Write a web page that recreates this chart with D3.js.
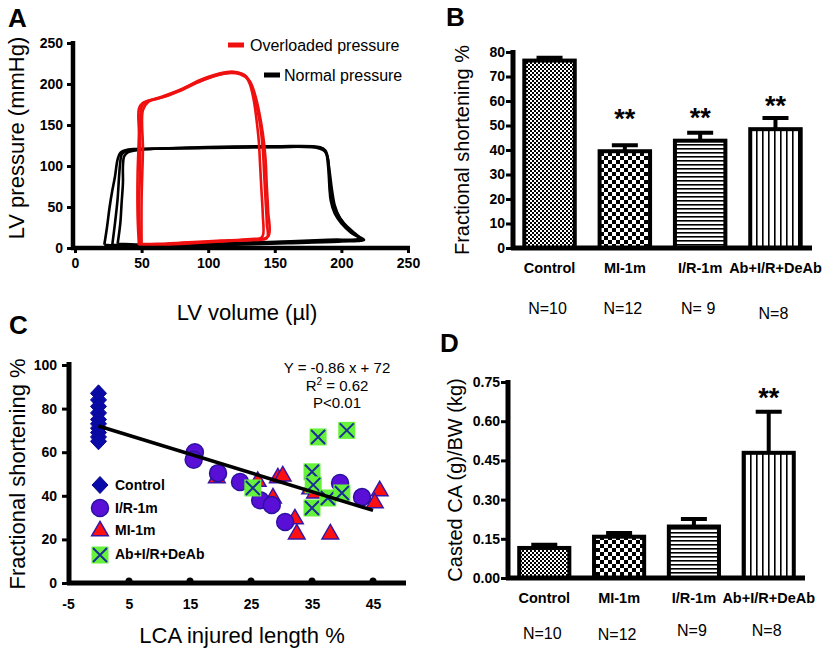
<!DOCTYPE html>
<html>
<head>
<meta charset="utf-8">
<script src="https://cdn.jsdelivr.net/npm/d3@7"></script>
<style>
body { margin: 0; background: #fff; }
svg { font-family: Arial, "Liberation Sans", sans-serif; }
</style>
</head>
<body>
<svg class="fig" width="830" height="650"></svg>
<script>
// ---- panel A: pressure-volume loops (volume ul, pressure mmHg)
var redLoopA = [[48,3],[47,40],[47,90],[48,140],[48,170],[51,177],[56,180],[64,184],[79,193],[94,205],[109,213],[119,215],[127,211],[131,201],[134,182],[136,160],[138,130],[139,100],[140,70],[141,40],[141,15],[138,11],[120,9],[100,7],[80,5],[60,3],[48,3]];
var redLoopB = [[49,4],[48,50],[49,100],[49,150],[50,172],[54,179],[62,182],[78,191],[95,204],[110,212],[120,214],[128,210],[133,196],[136,176],[139,150],[141,120],[142,90],[143,60],[144,30],[144,12],[130,10],[105,8],[80,6],[60,4],[49,4]];
var redLoopC = [[50,5],[50,60],[51,120],[51,168],[55,178],[70,186],[90,201],[112,213],[124,212],[131,204],[135,188],[138,168],[141,140],[143,110],[144,75],[145,45],[145,14],[132,11],[110,9],[85,7],[62,5],[50,5]];
var blackLoopA = [[22,4],[24,25],[26,50],[28,70],[30,87],[32,108],[34,116],[40,120],[60,121],[100,122],[150,123],[182,122],[188,117],[190,100],[191,75],[192,58],[195,42],[200,30],[207,19],[215,10],[200,8],[160,6],[120,4],[80,3],[45,2.5],[30,3],[22,4]];
var blackLoopB = [[28,4],[30,30],[32,60],[33,85],[34,105],[35,114],[38,118],[45,120],[80,122],[130,123],[180,123],[186,121],[189,114],[191,95],[193,70],[195,52],[199,36],[205,24],[212,15],[217,10],[195,9],[150,7],[100,5],[60,4],[40,3],[28,4]];
var blackLoopC = [[32,5],[34,30],[35,55],[36,80],[36,100],[37,112],[40,117],[50,120],[100,123],[150,124],[184,123],[188,119],[190,108],[191,85],[192,65],[196,45],[202,30],[210,18],[214,12],[190,10],[140,7],[90,5],[50,4],[32,5]];
var pvTicks = [0, 50, 100, 150, 200, 250];

// ---- panels B and D: group bars
var groups = ["Control", "MI-1m", "I/R-1m", "Ab+I/R+DeAb"];
var fsMean = [76.5, 39.5, 43.8, 48.5];
var fsErr = [1.2, 2.4, 3.2, 4.6];
var fsSigAt = [null, 55, 55.5, 60.5];
var fsN = ["N=10", "N=12", "N= 9", "N=8"];
var fsTicks = [0, 10, 20, 30, 40, 50, 60, 70, 80];
var caMean = [0.115, 0.158, 0.197, 0.479];
var caErr = [0.012, 0.014, 0.029, 0.157];
var caSigAt = [null, null, null, 0.71];
var caN = ["N=10", "N=12", "N=9", "N=8"];
var caTicks = [0, 0.15, 0.30, 0.45, 0.60, 0.75];

// ---- panel C: LCA injured length % vs fractional shortening %
var ctrlPts = [[0,87],[0,84],[0,81],[0,78],[0,75],[0,73],[0,71],[0,69],[0,67],[0,65]];
var irPts = [[15.8,60],[15.6,56.5],[19.6,50.4],[23.2,46.3],[26.5,38],[28.4,35.8],[30.6,28],[39.6,45.9],[43.2,39.4]];
var miPts = [[19.4,48.6],[26.1,47],[29.4,48.6],[30.2,49.5],[28.6,39.4],[32.2,29.8],[32.5,22.9],[34.7,43.6],[35.5,41.7],[38,22.9],[46.1,42.7],[45.3,37.2]];
var abPts = [[36,67],[40.7,70],[25.3,43.6],[35,51],[35.2,45],[35,34.4],[37.6,39],[39.9,41.3]];
var fit = {slope: -0.86, intercept: 72, from: 0, to: 45};
var lcaTicks = [-5, 5, 15, 25, 35, 45];
var fsTicksC = [0, 20, 40, 60, 80, 100];

var svg = d3.select(".fig");

// bar fill patterns
var defs = svg.append("defs");
function pattern(id, w, h) {
  var p = defs.append("pattern").attr("id", id)
      .attr("patternUnits", "userSpaceOnUse")
      .attr("width", w).attr("height", h);
  p.append("rect").attr("width", w).attr("height", h).attr("fill", "#fff");
  return p;
}
var p1 = pattern("fineCheck", 4, 4);
p1.append("rect").attr("width", 2).attr("height", 2).attr("fill", "#000");
p1.append("rect").attr("x", 2).attr("y", 2).attr("width", 2).attr("height", 2).attr("fill", "#000");
var p2 = pattern("bigCheck", 8, 8);
p2.append("rect").attr("width", 4).attr("height", 4).attr("fill", "#000");
p2.append("rect").attr("x", 4).attr("y", 4).attr("width", 4).attr("height", 4).attr("fill", "#000");
var p3 = pattern("hLines", 4, 4);
p3.append("rect").attr("width", 4).attr("height", 1.6).attr("fill", "#000");
var p4 = pattern("vLines", 6, 6);
p4.append("rect").attr("width", 1.6).attr("height", 6).attr("fill", "#000");
var fills = ["url(#fineCheck)", "url(#bigCheck)", "url(#hLines)", "url(#vLines)"];

function panelLabel(t, x, y) {
  svg.append("text").attr("x", x).attr("y", y)
    .style("font-weight", "bold").style("font-size", "26px").text(t);
}

// strip d3 axis defaults so the ticks use the figure font in bold
function styleAxis(g, size) {
  g.attr("font-family", null).attr("font-size", null);
  g.select(".domain").remove();
  g.selectAll(".tick line").attr("stroke", "#000").attr("stroke-width", 3);
  g.selectAll(".tick text").attr("fill", "#000")
    .style("font-weight", "bold").style("font-size", (size || 14) + "px");
}

// ================= A =================
(function () {
  var x = d3.scaleLinear().domain([0, 250]).range([75, 408]);
  var y = d3.scaleLinear().domain([0, 250]).range([248, 43]);
  var g = svg.append("g");

  var line = d3.line()
      .x(function(d) { return x(d[0]); })
      .y(function(d) { return y(d[1]); })
      .curve(d3.curveCatmullRom.alpha(0.5));

  [blackLoopA, blackLoopB, blackLoopC].forEach(function(l) {
    g.append("path").attr("d", line(l)).attr("fill", "none")
      .attr("stroke", "#000").attr("stroke-width", 2.6);
  });
  [redLoopA, redLoopB, redLoopC].forEach(function(l) {
    g.append("path").attr("d", line(l)).attr("fill", "none")
      .attr("stroke", "#f01010").attr("stroke-width", 2.6);
  });

  var yAxis = g.append("g").attr("transform", "translate(73,0)")
      .call(d3.axisLeft(y).tickValues(pvTicks).tickSize(6).tickPadding(4));
  styleAxis(yAxis);
  var xAxis = g.append("g").attr("transform", "translate(0,248)")
      .call(d3.axisBottom(x).tickValues(pvTicks).tickSize(5).tickPadding(5));
  styleAxis(xAxis);
  g.append("line").attr("x1", 73).attr("x2", 73).attr("y1", 41).attr("y2", 250)
    .attr("stroke", "#000").attr("stroke-width", 4.5);
  g.append("line").attr("x1", 71).attr("x2", 410).attr("y1", 248).attr("y2", 248)
    .attr("stroke", "#000").attr("stroke-width", 4.5);

  g.append("text").attr("transform", "translate(24,138) rotate(-90)")
    .style("text-anchor", "middle").style("font-size", "22px").text("LV pressure (mmHg)");
  g.append("text").attr("x", 247).attr("y", 320)
    .style("text-anchor", "middle").style("font-size", "22px").text("LV volume (\u00b5l)");

  // legend
  g.append("line").attr("x1", 228).attr("x2", 244).attr("y1", 45).attr("y2", 45)
    .attr("stroke", "#f01010").attr("stroke-width", 5);
  g.append("text").attr("x", 250).attr("y", 51).style("font-size", "16px").text("Overloaded pressure");
  g.append("line").attr("x1", 264).attr("x2", 280).attr("y1", 75).attr("y2", 75)
    .attr("stroke", "#000").attr("stroke-width", 5);
  g.append("text").attr("x", 284).attr("y", 81).style("font-size", "16px").text("Normal pressure");
})();
panelLabel("A", 8, 27);

// ================= B and D =================
function barPanel(cfg) {
  var g = svg.append("g");
  var x = d3.scaleBand().domain(groups).range([cfg.x0, cfg.x1])
      .paddingInner(0.33).paddingOuter(0.15);
  var y = d3.scaleLinear().domain([0, cfg.max]).range([cfg.y0, cfg.y1]);

  var yAxis = g.append("g").attr("transform", "translate(" + cfg.x0 + ",0)")
      .call(d3.axisLeft(y).tickValues(cfg.ticks).tickSize(7).tickPadding(1)
        .tickFormat(cfg.format));
  styleAxis(yAxis, 14);

  var data = groups.map(function(k, i) {
    return {key: k, mean: cfg.mean[i], err: cfg.err[i], sig: cfg.sigAt[i], n: cfg.n[i], fill: fills[i]};
  });

  g.selectAll(".bar").data(data).enter().append("rect")
      .attr("class", "bar")
      .attr("x", function(d) { return x(d.key); })
      .attr("width", x.bandwidth())
      .attr("y", function(d) { return y(d.mean); })
      .attr("height", function(d) { return y(0) - y(d.mean); })
      .attr("fill", function(d) { return d.fill; })
      .attr("stroke", "#000").attr("stroke-width", 4);

  g.selectAll(".err").data(data).enter().append("path")
      .attr("class", "err")
      .attr("d", function(d) {
        var c = x(d.key) + x.bandwidth() / 2, t = y(d.mean + d.err);
        return "M" + c + "," + y(d.mean) + "V" + t + "M" + (c - 13) + "," + t + "H" + (c + 13);
      })
      .attr("fill", "none").attr("stroke", "#000").attr("stroke-width", 4);

  g.selectAll(".sig").data(data.filter(function(d) { return d.sig != null; })).enter()
    .append("text")
      .attr("x", function(d) { return x(d.key) + x.bandwidth() / 2; })
      .attr("y", function(d) { return y(d.sig) + 15; })
      .style("text-anchor", "middle").style("font-weight", "bold").style("font-size", "27px")
      .text("**");

  g.append("line").attr("x1", cfg.x0).attr("x2", cfg.x0).attr("y1", cfg.y1 - 2).attr("y2", cfg.y0 + 2)
    .attr("stroke", "#000").attr("stroke-width", 5);
  g.append("line").attr("x1", cfg.x0 - 2).attr("x2", cfg.x1).attr("y1", cfg.y0).attr("y2", cfg.y0)
    .attr("stroke", "#000").attr("stroke-width", 5);

  g.selectAll(".cat").data(data).enter().append("text")
      .attr("x", function(d) { return x(d.key) + x.bandwidth() / 2; })
      .attr("y", cfg.y0 + 25)
      .style("text-anchor", "middle").style("font-weight", "bold").style("font-size", "14.5px")
      .text(function(d) { return d.key; });

  g.selectAll(".nlab").data(data).enter().append("text")
      .attr("x", function(d) { return x(d.key) + x.bandwidth() / 2 - 2; })
      .attr("y", function(d, i) { return cfg.y0 + cfg.nDy[i]; })
      .style("text-anchor", "middle").style("font-size", "16px")
      .text(function(d) { return d.n; });

  g.append("text")
      .attr("transform", "translate(" + cfg.titleX + "," + ((cfg.y0 + cfg.y1) / 2) + ") rotate(-90)")
      .style("text-anchor", "middle").style("font-size", "20px").text(cfg.title);
}

barPanel({x0: 513, x1: 812, y0: 248, y1: 52, max: 80, ticks: fsTicks, format: d3.format("d"),
  mean: fsMean, err: fsErr, sigAt: fsSigAt, n: fsN, nDy: [66, 66, 66, 71],
  title: "Fractional shortening %", titleX: 469});
panelLabel("B", 446, 26);

barPanel({x0: 508, x1: 805, y0: 578, y1: 382, max: 0.75, ticks: caTicks, format: d3.format(".2f"),
  mean: caMean, err: caErr, sigAt: caSigAt, n: caN, nDy: [61, 62, 58, 58],
  title: "Casted CA (g)/BW (kg)", titleX: 462});
panelLabel("D", 440, 352);

// ================= C =================
(function () {
  var x = d3.scaleLinear().domain([-5, 50]).range([68, 403.5]);
  var y = d3.scaleLinear().domain([0, 100]).range([583, 365]);
  var g = svg.append("g");

  var yAxis = g.append("g").attr("transform", "translate(69,0)")
      .call(d3.axisLeft(y).tickValues(fsTicksC).tickSize(7).tickPadding(5));
  styleAxis(yAxis);
  var xAxis = g.append("g").attr("transform", "translate(0,583)")
      .call(d3.axisBottom(x).tickValues(lcaTicks).tickSize(0).tickPadding(16)
        .tickFormat(function(d) { return String(d); }));
  styleAxis(xAxis);
  g.append("line").attr("x1", 69).attr("x2", 69).attr("y1", 362).attr("y2", 585)
    .attr("stroke", "#000").attr("stroke-width", 5);
  g.append("line").attr("x1", 67).attr("x2", 406).attr("y1", 583).attr("y2", 583)
    .attr("stroke", "#000").attr("stroke-width", 5);
  g.selectAll(".dot").data(lcaTicks.slice(1)).enter().append("circle")
      .attr("cx", function(d) { return x(d); }).attr("cy", 581).attr("r", 3.5).attr("fill", "#000");

  var diamond = "M0,-8.5L8,0L0,8.5L-8,0Z";
  var tri = d3.symbol().type(d3.symbolTriangle).size(120);

  function diamonds(sel) {
    sel.attr("d", diamond).attr("fill", "#0a0aa8").attr("stroke", "#0a0a90").attr("stroke-width", 1);
  }
  function circles(sel) {
    sel.attr("r", 8.5).attr("fill", "#5a0fd6").attr("stroke", "#2a12a0").attr("stroke-width", 1.5);
  }
  function triangles(sel) {
    sel.attr("d", tri).attr("fill", "#ff1010").attr("stroke", "#3a16a8").attr("stroke-width", 1.5);
  }
  function squares(sel) {
    sel.append("rect").attr("x", -8.5).attr("y", -8.5).attr("width", 17).attr("height", 17)
      .attr("fill", "#66f23a");
    sel.append("path").attr("d", "M-7,-7L7,7M7,-7L-7,7")
      .attr("stroke", "#1a2e96").attr("stroke-width", 2);
  }

  g.selectAll(".ctl").data(ctrlPts).enter().append("path")
      .attr("transform", function(d) { return "translate(" + x(d[0]) + "," + y(d[1]) + ")"; })
      .call(diamonds);
  g.selectAll(".mi").data(miPts).enter().append("path")
      .attr("transform", function(d) { return "translate(" + x(d[0]) + "," + (y(d[1]) + 1) + ")"; })
      .call(triangles);
  g.selectAll(".ir").data(irPts).enter().append("circle")
      .attr("cx", function(d) { return x(d[0]); })
      .attr("cy", function(d) { return y(d[1]); })
      .call(circles);
  g.selectAll(".ab").data(abPts).enter().append("g")
      .attr("transform", function(d) { return "translate(" + x(d[0]) + "," + y(d[1]) + ")"; })
      .call(squares);

  g.append("line")
      .attr("x1", x(fit.from)).attr("y1", y(fit.intercept + fit.slope * fit.from))
      .attr("x2", x(fit.to)).attr("y2", y(fit.intercept + fit.slope * fit.to))
      .attr("stroke", "#000").attr("stroke-width", 3.5);

  var eq = g.append("g").style("font-size", "15px").style("text-anchor", "middle");
  eq.append("text").attr("x", 337).attr("y", 373).text("Y = -0.86 x + 72");
  var r2 = eq.append("text").attr("x", 337).attr("y", 391);
  r2.append("tspan").text("R");
  r2.append("tspan").attr("dy", -6).style("font-size", "10px").text("2");
  r2.append("tspan").attr("dy", 6).text(" = 0.62");
  eq.append("text").attr("x", 337).attr("y", 408).text("P<0.01");

  // legend
  var leg = g.append("g");
  leg.append("path").attr("transform", "translate(100,485)").call(diamonds);
  leg.append("circle").attr("cx", 100).attr("cy", 508).call(circles);
  leg.append("path").attr("transform", "translate(100,531)").call(triangles);
  leg.append("g").attr("transform", "translate(100,555)").call(squares);
  var labels = ["Control", "I/R-1m", "MI-1m", "Ab+I/R+DeAb"];
  var ly = [490, 513, 535, 559];
  labels.forEach(function(t, i) {
    leg.append("text").attr("x", 115).attr("y", ly[i])
      .style("font-weight", "bold").style("font-size", "14px").text(t);
  });

  g.append("text").attr("transform", "translate(25,474) rotate(-90)")
    .style("text-anchor", "middle").style("font-size", "22px").text("Fractional shortening %");
  g.append("text").attr("x", 242).attr("y", 643)
    .style("text-anchor", "middle").style("font-size", "22px").text("LCA injured length %");
})();
panelLabel("C", 9, 334);
</script>
</body>
</html>
